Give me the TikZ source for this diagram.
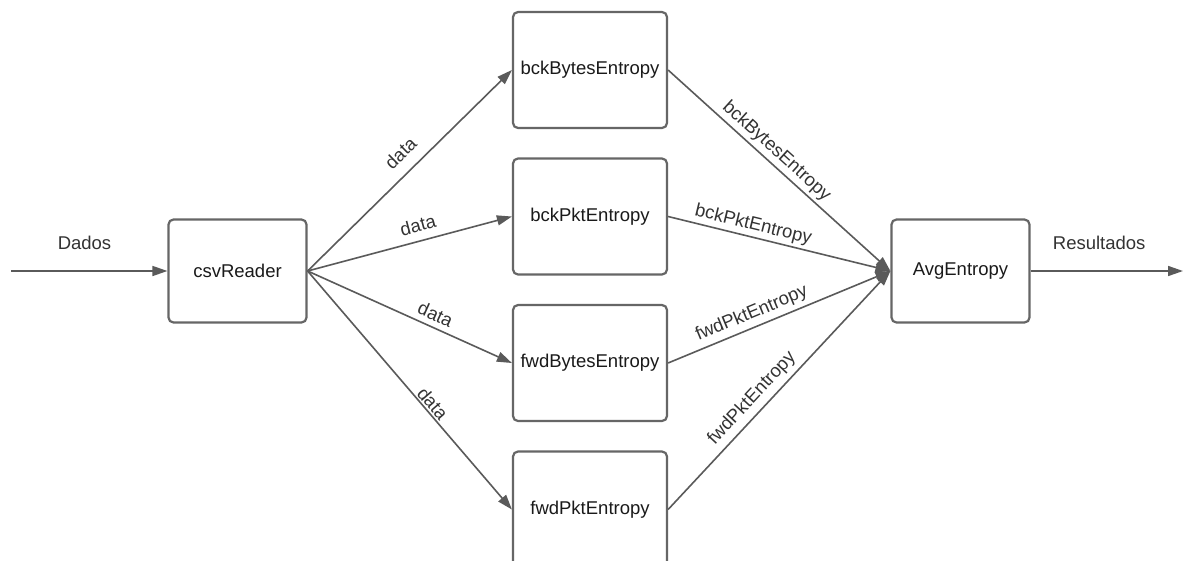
\documentclass[tikz,border=0pt]{standalone}
\usepackage{fontspec}
\setmainfont{Liberation Sans}
\usetikzlibrary{arrows.meta}
\definecolor{boxgray}{HTML}{666666}
\definecolor{linegray}{HTML}{5A5A5A}
\definecolor{txt}{HTML}{1A1A1A}
\definecolor{lbltxt}{HTML}{333333}
\begin{document}
\begin{tikzpicture}[x=1pt,y=-1pt,
  box/.style={draw=boxgray, line width=2.2pt, rounded corners=5pt, minimum width=154pt, minimum height=116pt, font=\fontsize{18.5}{22}\selectfont, text=txt, inner sep=0pt},
  smallbox/.style={box, minimum width=138pt, minimum height=103pt},
  conn/.style={draw=linegray, line width=1.6pt, -{Triangle[length=15pt,width=10pt]}},
  lbl/.style={font=\fontsize{18.5}{22}\selectfont, text=lbltxt, inner sep=0pt},
  slbl/.style={lbl, sloped}
]
\useasboundingbox (0,0) rectangle (1183,560);
\fill[white] (0,0) rectangle (1183,560);

\node[smallbox] (csv) at (237.5,271) {csvReader};
\node[box] (bB) at (590,70) {bckBytesEntropy};
\node[box] (bP) at (590,216.5) {bckPktEntropy};
\node[box] (fB) at (590,363) {fwdBytesEntropy};
\node[box] (fP) at (590,509.5) {fwdPktEntropy};
\node[smallbox] (avg) at (960.5,271) {AvgEntropy};
\coordinate (in) at (11,271);
\coordinate (out) at (1183,271);

\draw[conn] (in) -- (csv.west) node[lbl, pos=0.47, yshift=28pt] {Dados};
\draw[conn] (avg.east) -- (out) node[lbl, pos=0.45, yshift=28pt] {Resultados};

\draw[conn] (csv.east) -- (bB.west) node[slbl, pos=0.52, yshift=19pt] {data};
\draw[conn] (csv.east) -- (bP.west) node[slbl, pos=0.56, yshift=16pt] {data};
\draw[conn] (csv.east) -- (fB.west) node[slbl, pos=0.60, yshift=13pt] {data};
\draw[conn] (csv.east) -- (fP.west) node[slbl, pos=0.58, yshift=9pt] {data};

\draw[conn] (bB.east) -- (avg.west) node[slbl, pos=0.45, yshift=12.5pt] {bckBytesEntropy};
\draw[conn] (bP.east) -- (avg.west) node[slbl, pos=0.37, yshift=12pt] {bckPktEntropy};
\draw[conn] (fB.east) -- (avg.west) node[slbl, pos=0.40, yshift=13.5pt] {fwdPktEntropy};
\draw[conn] (fP.east) -- (avg.west) node[slbl, pos=0.425, yshift=14.5pt] {fwdPktEntropy};
\end{tikzpicture}
\end{document}
